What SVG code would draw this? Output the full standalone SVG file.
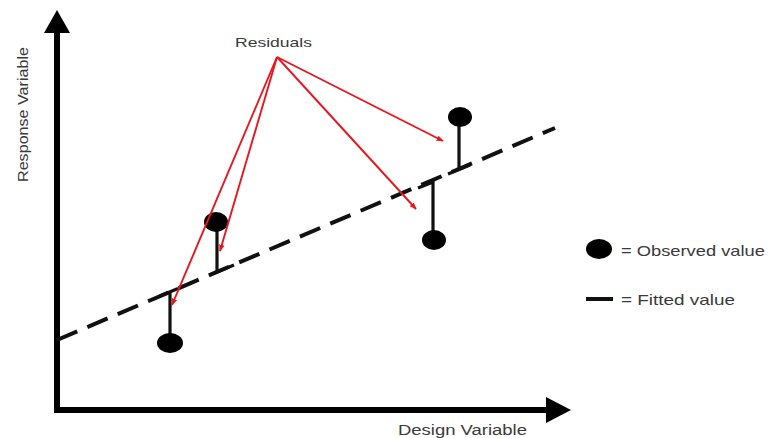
<svg xmlns="http://www.w3.org/2000/svg" width="771" height="438" viewBox="0 0 771 438">
<defs>
<style>
.t{font-family:"Liberation Sans",Arial,sans-serif;fill:#3a3a3a}
.ax{stroke:#000;stroke-width:6;fill:none}
.res{stroke:#111;stroke-width:3.2;fill:none}
.obs{fill:#000}
.red{stroke:#e8161e;stroke-width:1.9;fill:none;marker-end:url(#ah)}
</style>
<marker id="ah" viewBox="0 0 10 10" refX="9" refY="5" markerWidth="7" markerHeight="7" markerUnits="userSpaceOnUse" orient="auto">
<path d="M0,1 L10,5 L0,9 z" fill="#e8161e"/>
</marker>
</defs>
<rect width="771" height="438" fill="#fff"/>
<g id="axes">
<path class="ax" d="M57,31 V410 H548"/>
<polygon points="57,10 44,33 70,33" fill="#000"/>
<polygon points="571,410 546,397 546,423" fill="#000"/>
</g>
<g id="fitted-line">
<line x1="57" y1="340" x2="555" y2="128" stroke="#111" stroke-width="4" stroke-dasharray="22,11"/>
</g>
<g id="residual-1">
<path class="res" d="M170,343 V292 M160,296 L178,288.5"/>
<ellipse class="obs" cx="170" cy="343" rx="13" ry="10"/>
</g>
<g id="residual-2">
<path class="res" d="M217,222 V272 L234,265"/>
<ellipse class="obs" cx="216" cy="222" rx="12" ry="10"/>
</g>
<g id="residual-3">
<path class="res" d="M433,240 V182 L418,188"/>
<ellipse class="obs" cx="434" cy="240" rx="12" ry="10"/>
</g>
<g id="residual-4">
<path class="res" d="M459,117 V170 M448,174 L470,165"/>
<ellipse class="obs" cx="460" cy="117" rx="12" ry="10"/>
</g>
<g id="connectors">
<line class="red" x1="277" y1="57" x2="172" y2="305"/>
<line class="red" x1="277" y1="57" x2="220" y2="251"/>
<line class="red" x1="277" y1="57" x2="416" y2="209"/>
<line class="red" x1="277" y1="57" x2="443" y2="141"/>
</g>
<g id="label-residuals">
<text class="t" x="235" y="47" font-size="13" textLength="77" lengthAdjust="spacingAndGlyphs">Residuals</text>
</g>
<g id="label-x">
<text class="t" x="398" y="435" font-size="14" textLength="129" lengthAdjust="spacingAndGlyphs">Design  Variable</text>
</g>
<g id="label-y">
<text class="t" transform="translate(28,182) rotate(-90)" x="0" y="0" font-size="14" textLength="135" lengthAdjust="spacingAndGlyphs">Response  Variable</text>
</g>
<g id="legend-observed">
<ellipse class="obs" cx="599" cy="249" rx="13" ry="10"/>
<text class="t" x="621" y="256" font-size="15" textLength="144" lengthAdjust="spacingAndGlyphs">= Observed value</text>
</g>
<g id="legend-fitted">
<line x1="586" y1="299" x2="613" y2="299" stroke="#111" stroke-width="4"/>
<text class="t" x="621" y="305" font-size="15" textLength="114" lengthAdjust="spacingAndGlyphs">= Fitted value</text>
</g>
</svg>
